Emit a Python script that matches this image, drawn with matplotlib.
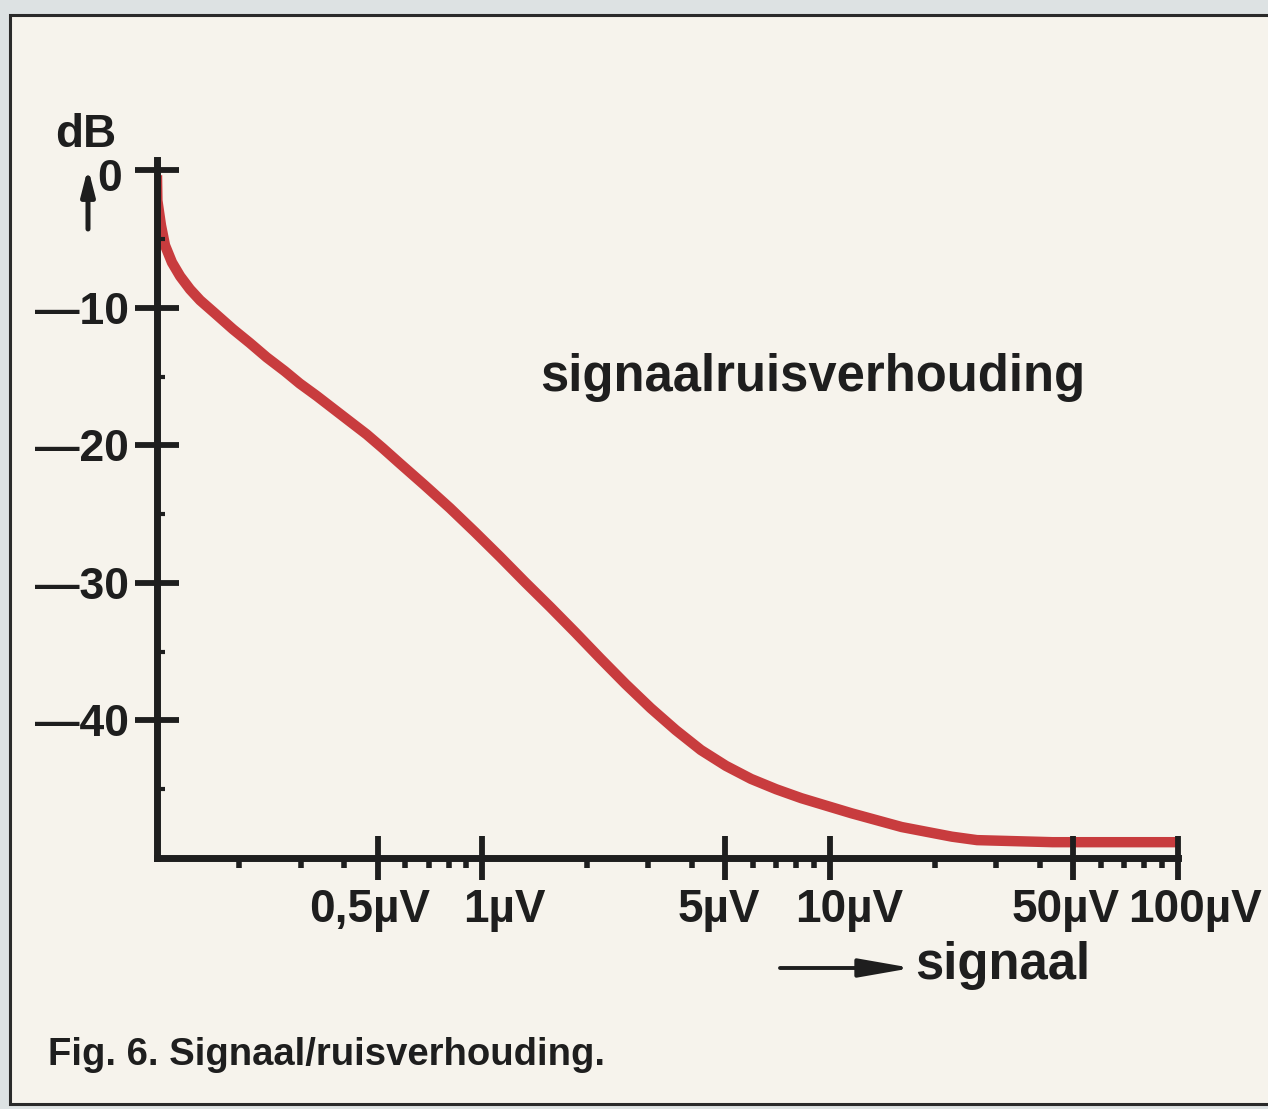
import numpy as np
import matplotlib
matplotlib.use('Agg')
import matplotlib.pyplot as plt
from matplotlib import font_manager as fm
from matplotlib import transforms as mtrans
from matplotlib.ticker import FixedLocator, NullFormatter
from matplotlib.patches import Rectangle

# ---------------- data ----------------
signal_uv = [0.1160, 0.1163, 0.1191, 0.1223, 0.1281, 0.1352, 0.1443, 0.1543,
             0.1703, 0.1917, 0.2144, 0.2398, 0.2702, 0.2984, 0.3339, 0.3713,
             0.4154, 0.4649, 0.5169, 0.5783, 0.6824, 0.8060, 0.9518, 1.124,
             1.327, 1.567, 1.850, 2.185, 2.580, 3.047, 3.598, 4.249, 5.015,
             5.923, 6.994, 8.259, 9.752, 11.52, 13.60, 16.06, 18.96, 22.39,
             26.44, 31.22, 43.53, 100.0]
snr_db = [-0.36, -2.2, -4.0, -5.45, -6.7, -7.7, -8.65, -9.45,
          -10.4, -11.55, -12.55, -13.6, -14.6, -15.5, -16.4, -17.3,
          -18.25, -19.2, -20.2, -21.3, -22.9, -24.55, -26.3, -28.1,
          -29.95, -31.75, -33.6, -35.5, -37.35, -39.1, -40.7, -42.15, -43.3,
          -44.25, -45.0, -45.65, -46.2, -46.75, -47.25, -47.75, -48.1, -48.45,
          -48.7, -48.75, -48.85, -48.85]

x_major = [0.5, 1, 5, 10, 50, 100]
x_major_labels = ["0,5\u00b5V", "1\u00b5V", "5\u00b5V", "10\u00b5V", "50\u00b5V", "100\u00b5V"]
x_minor = [0.2, 0.3, 0.4, 0.6, 0.7, 0.8, 0.9, 2, 3, 4, 6, 7, 8, 9,
           20, 30, 40, 60, 70, 80, 90]
y_major = [0, -10, -20, -30, -40]
y_major_labels = ["", "\u201410", "\u201420", "\u201430", "\u201440"]
y_zero_label = "0"
y_minor = [-5, -15, -25, -35, -45]

title_text = "signaalruisverhouding"
xlabel_text = "signaal"
ylabel_text = "dB"
caption_text = "Fig. 6. Signaal/ruisverhouding."

# ---------------- style ----------------
INK = "#1e1e1e"
RED = "#c83c3e"
PAPER = "#f6f3ec"
OUTER = "#dde2e3"

def font(size, family="Liberation Sans"):
    return fm.FontProperties(family=[family, "DejaVu Sans"], weight="bold", size=size)

W, H = 1268, 1109
fig = plt.figure(figsize=(W / 100, H / 100), dpi=100)
fig.patch.set_facecolor(OUTER)

# paper background with frame, in a background axes
bg = fig.add_axes([0, 0, 1, 1], zorder=-10)
bg.set_xlim(0, W)
bg.set_ylim(H, 0)
bg.axis("off")
bg.add_patch(Rectangle((10, 15), W + 20, 1104 - 15, facecolor=PAPER,
                       edgecolor="#2a2a2a", lw=2.2))

ax = fig.add_axes([157 / W, 1 - 858 / H, (1178 - 157) / W, (858 - 160) / H])
ax.set_facecolor("none")
ax.set_xscale("log")
ax.set_xlim(0.116, 100)
ax.set_ylim(-50, 0.75)

ax.plot(signal_uv, snr_db, color=RED, lw=7.5, solid_capstyle="butt",
        solid_joinstyle="round", zorder=2)
ax.set_axisbelow(False)

for s in ["top", "right"]:
    ax.spines[s].set_visible(False)
for s in ["left", "bottom"]:
    ax.spines[s].set_linewidth(5)
    ax.spines[s].set_color(INK)
    ax.spines[s].set_capstyle("projecting")

ax.xaxis.set_major_locator(FixedLocator(x_major))
ax.xaxis.set_minor_locator(FixedLocator(x_minor))
ax.xaxis.set_minor_formatter(NullFormatter())
ax.set_xticklabels(x_major_labels)
ax.yaxis.set_major_locator(FixedLocator(y_major))
ax.yaxis.set_minor_locator(FixedLocator(y_minor))
ax.set_yticklabels(y_major_labels)

ax.tick_params(axis="x", which="major", direction="inout", length=31, width=4.2,
               color=INK, pad=6)
ax.tick_params(axis="x", which="minor", direction="out", length=7, width=4,
               color=INK)
ax.tick_params(axis="y", which="major", direction="inout", length=31, width=4.2,
               color=INK, pad=5)
ax.tick_params(axis="y", which="minor", direction="in", length=6, width=3,
               color=INK)

# per-label horizontal nudges (the original hand-drawn scale is irregular)
x_label_nudge_px = [-8, 22, -7, 19, -8, 17]
for lab, dx in zip(ax.get_xticklabels(), x_label_nudge_px):
    lab.set_fontproperties(font(33))
    lab.set_color(INK)
    lab.set_transform(lab.get_transform() +
                      mtrans.ScaledTranslation(dx / 100, 0, fig.dpi_scale_trans))
for lab in ax.get_yticklabels():
    lab.set_fontproperties(font(32))
    lab.set_color(INK)

# the "0" of the y axis sits a little lower and further left
zero_tr = mtrans.offset_copy(ax.get_yaxis_transform(), fig=fig, x=0, y=-9,
                             units="dots")
ax.text(-0.034, 0, y_zero_label, transform=zero_tr, fontproperties=font(32),
        color=INK, ha="right", va="center")

# axis titles and texts
fig.text(55 / W, 1 - 135 / H, ylabel_text, fontproperties=font(33), color=INK,
         ha="left", va="center")
fig.text(540 / W, 1 - 378 / H, title_text, fontproperties=font(36.5), color=INK,
         ha="left", va="center")
fig.text(915 / W, 1 - 966 / H, xlabel_text, fontproperties=font(36.5), color=INK,
         ha="left", va="center")
fig.text(48 / W, 1 - 1055 / H, caption_text, fontproperties=font(27.5), color=INK,
         ha="left", va="center")

# arrows
bg.annotate("", xy=(88, 168), xytext=(88, 229),
            arrowprops=dict(arrowstyle="-|>,head_length=0.7,head_width=0.18",
                            color=INK, lw=3.6, mutation_scale=22,
                            shrinkA=0, shrinkB=0))
bg.annotate("", xy=(912, 968), xytext=(780, 968),
            arrowprops=dict(arrowstyle="-|>,head_length=1.6,head_width=0.28",
                            color=INK, lw=2.8, mutation_scale=20,
                            shrinkA=0, shrinkB=0))

fig.savefig("out.png", dpi=100, facecolor=fig.get_facecolor())
